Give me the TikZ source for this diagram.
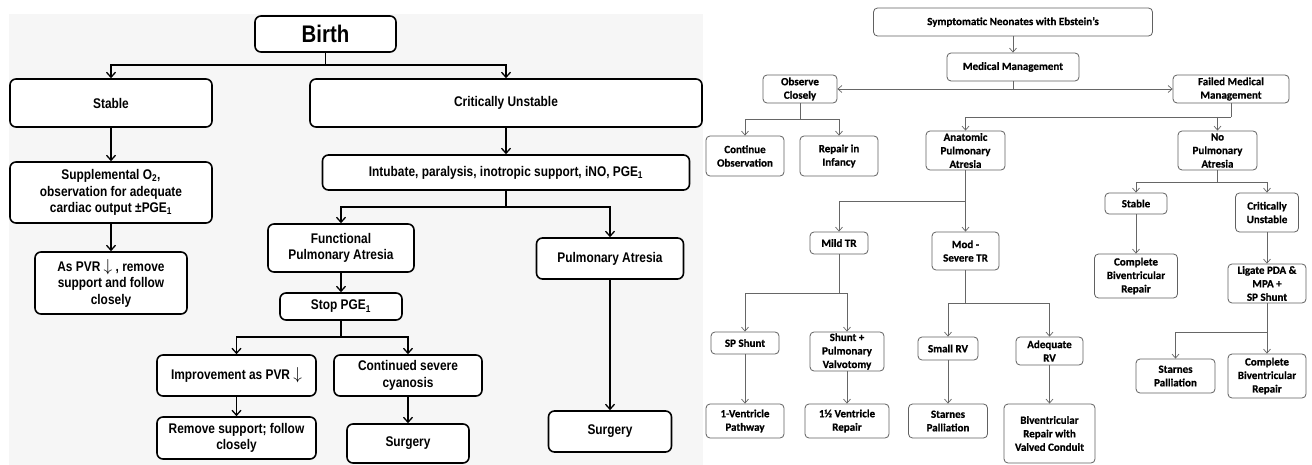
\documentclass[tikz,border=0pt]{standalone}
\usepackage{fontspec}
\setmainfont{Liberation Sans}
\newfontfamily\lfont[FakeStretch=0.85]{Liberation Sans}
\newfontfamily\rfont[FakeBold=0.6]{Carlito}
\usetikzlibrary{arrows.meta}
\newcommand{\pvrdown}{{\fontsize{17}{17}\selectfont$\downarrow$}}
\tikzset{
  sz/.style 2 args={minimum width=#1pt, minimum height=#2pt},
  lbox/.style={draw=black, line width=1.6pt, rounded corners=6pt, fill=white, align=center,
    font=\lfont\bfseries\fontsize{14}{16.5}\selectfont, inner sep=1pt},
  larr/.style={line width=1.3pt, -{Straight Barb[length=5pt,width=9pt,line width=1.3pt]}},
  lline/.style={line width=1.3pt},
  rbox/.style={draw=black!62, line width=0.8pt, rounded corners=4pt, fill=white, align=center,
    font=\rfont\bfseries\fontsize{11}{13.5}\selectfont, inner sep=1pt},
  rarr/.style={draw=black!60, line width=0.7pt, -{Straight Barb[length=4pt,width=7pt]}},
  rline/.style={draw=black!60, line width=0.7pt},
}
\begin{document}
\begin{tikzpicture}[x=1pt, y=-1pt]
\fill[white] (0,0) rectangle (1312,465);
\useasboundingbox (0,0) rectangle (1312,465);
\fill[gray!7] (9,14) rectangle (703,465);

% ---------------- left panel ----------------
\node[lbox, sz={141}{36}] (birth) at (325.5,34) {\fontsize{24}{28}\selectfont Birth};
\node[lbox, sz={202}{48}] (stable) at (111,103) {Stable};
\node[lbox, sz={392}{48}] (crit) at (506,103) {Critically Unstable};
\node[lbox, sz={202}{61}] (supp) at (111,192.5) {Supplemental O\textsubscript{2},\\observation for adequate\\cardiac output ±PGE\textsubscript{1}};
\node[lbox, sz={152}{62}] (pvr) at (111,283) {As PVR \pvrdown\ , remove\\support and follow\\closely};
\node[lbox, sz={367}{35}] (intub) at (506,172.5) {Intubate, paralysis, inotropic support, iNO, PGE\textsubscript{1}};
\node[lbox, sz={146}{48}] (func) at (341,248) {Functional\\Pulmonary Atresia};
\node[lbox, sz={122}{27}] (stop) at (341,306.5) {Stop PGE\textsubscript{1}};
\node[lbox, sz={159}{41}] (impr) at (236.5,375.5) {Improvement as PVR \pvrdown};
\node[lbox, sz={148}{41}] (cont) at (408,375.5) {Continued severe\\cyanosis};
\node[lbox, sz={159}{42}] (remove) at (236.5,438) {Remove support; follow\\closely};
\node[lbox, sz={122}{39}] (surg1) at (408,443.5) {Surgery};
\node[lbox, sz={147}{41}] (pa) at (610,258.5) {Pulmonary Atresia};
\node[lbox, sz={123}{41}] (surg2) at (610,431.5) {Surgery};

\coordinate (j1) at (325.5,65);
\coordinate (j2) at (506,207);
\coordinate (j3) at (341,337);

\draw[lline] (birth.south) -- (j1);
\draw[larr] (j1) -| (stable.north);
\draw[larr] (j1) -| (crit.north);
\draw[larr] (stable) -- (supp);
\draw[larr] (supp) -- (pvr);
\draw[larr] (crit) -- (intub);
\draw[lline] (intub.south) -- (j2);
\draw[larr] (j2) -| (func.north);
\draw[larr] (j2) -| (pa.north);
\draw[larr] (func) -- (stop);
\draw[lline] (stop.south) -- (j3);
\draw[larr] (j3) -| (impr.north);
\draw[larr] (j3) -| (cont.north);
\draw[larr] (impr) -- (remove);
\draw[larr] (cont) -- (surg1);
\draw[larr] (pa) -- (surg2);

% ---------------- right panel ----------------
\node[rbox, sz={279}{28}] (sympt) at (1013,22) {Symptomatic Neonates with Ebstein’s};
\node[rbox, sz={132}{28}] (medm) at (1013,67) {Medical Management};
\node[rbox, sz={74}{28}] (obs) at (800,89) {Observe\\Closely};
\node[rbox, sz={116}{28}] (failed) at (1231,89) {Failed Medical\\Management};
\node[rbox, sz={78}{40}] (contobs) at (745,156) {Continue\\Observation};
\node[rbox, sz={78}{40}] (repinf) at (839,156) {Repair in\\Infancy};
\node[rbox, sz={79}{39}] (anat) at (965.5,150.5) {Anatomic\\Pulmonary\\Atresia};
\node[rbox, sz={79}{39}] (nopa) at (1217.5,150.5) {No\\Pulmonary\\Atresia};
\node[rbox, sz={62}{21}] (rstable) at (1136,203.5) {Stable};
\node[rbox, sz={63}{39}] (rcrit) at (1267,212.5) {Critically\\Unstable};
\node[rbox, sz={83}{44}] (cbr1) at (1136,276) {Complete\\Biventricular\\Repair};
\node[rbox, sz={78}{39}] (ligate) at (1267,283.5) {Ligate PDA \&\\MPA +\\SP Shunt};
\node[rbox, sz={79}{34}] (starnes2) at (1175.5,376) {Starnes\\Palliation};
\node[rbox, sz={78}{44}] (cbr2) at (1267,376) {Complete\\Biventricular\\Repair};
\node[rbox, sz={58}{22}] (mild) at (839,243) {Mild TR};
\node[rbox, sz={67}{38}] (mod) at (965.5,251) {Mod -\\Severe TR};
\node[rbox, sz={68}{22}] (sps) at (745,343) {SP Shunt};
\node[rbox, sz={74}{39}] (shpv) at (847,351.5) {Shunt +\\Pulmonary\\Valvotomy};
\node[rbox, sz={78}{34}] (onev) at (745,421) {1-Ventricle\\Pathway};
\node[rbox, sz={84}{34}] (onehalf) at (847,421) {1½ Ventricle\\Repair};
\node[rbox, sz={60}{23}] (smallrv) at (948,348.5) {Small RV};
\node[rbox, sz={79}{34}] (starnes1) at (948,421) {Starnes\\Palliation};
\node[rbox, sz={67}{28}] (adeq) at (1049.5,351) {Adequate\\RV};
\node[rbox, sz={91}{59}] (biv) at (1049.5,433.5) {Biventricular\\Repair with\\Valved Conduit};

\coordinate (jm) at (1013,89);
\coordinate (jo) at (800,119);
\coordinate (jf) at (1231,117);
\coordinate (jn) at (1217.5,117);
\coordinate (jnp) at (1217.5,182);
\coordinate (jl) at (1267,332);
\coordinate (ja) at (965.5,201);
\coordinate (jmi) at (839,293);
\coordinate (jmo) at (965.5,303);

\draw[rarr] (sympt) -- (medm);
\draw[rline] (medm.south) -- (jm);
\draw[rarr] (jm) -- (obs.east);
\draw[rarr] (jm) -- (failed.west);
\draw[rline] (obs.south) -- (jo);
\draw[rarr] (jo) -| (contobs.north);
\draw[rarr] (jo) -| (repinf.north);
\draw[rline] (failed.south) -- (jf);
\draw[rarr] (jf) -| (anat.north);
\draw[rarr] (jn) -- (nopa.north);
\draw[rline] (nopa.south) -- (jnp);
\draw[rarr] (jnp) -| (rstable.north);
\draw[rarr] (jnp) -| (rcrit.north);
\draw[rarr] (rstable) -- (cbr1);
\draw[rarr] (rcrit) -- (ligate);
\draw[rline] (ligate.south) -- (jl);
\draw[rarr] (jl) -| (starnes2.north);
\draw[rarr] (jl) -- (cbr2.north);
\draw[rline] (anat.south) -- (ja);
\draw[rarr] (ja) -| (mild.north);
\draw[rarr] (ja) -- (mod.north);
\draw[rline] (mild.south) -- (jmi);
\draw[rarr] (jmi) -| (sps.north);
\draw[rarr] (jmi) -| (shpv.north);
\draw[rarr] (sps) -- (onev);
\draw[rarr] (shpv) -- (onehalf);
\draw[rline] (mod.south) -- (jmo);
\draw[rarr] (jmo) -| (smallrv.north);
\draw[rarr] (jmo) -| (adeq.north);
\draw[rarr] (smallrv) -- (starnes1);
\draw[rarr] (adeq) -- (biv);
\end{tikzpicture}
\end{document}
